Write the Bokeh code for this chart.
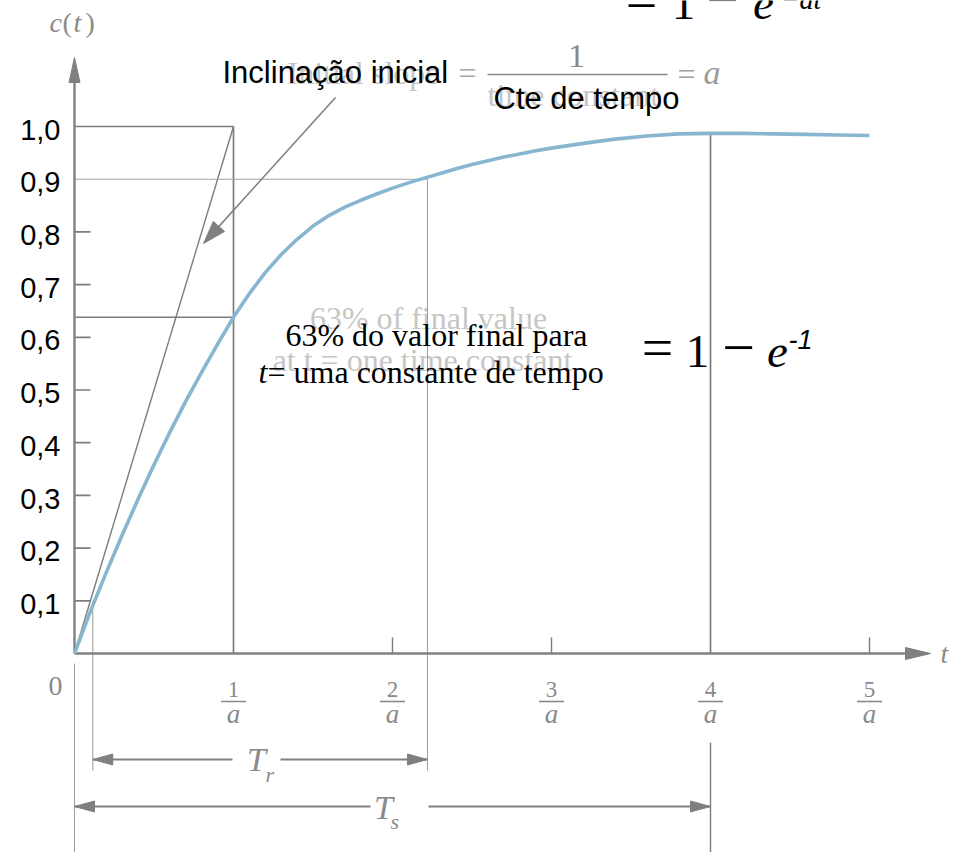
import math

from bokeh.plotting import figure
from bokeh.models import Range1d
from bokeh.core.properties import value
from bokeh.embed import file_html
from bokeh.resources import INLINE

# ---- data: first-order step response c(t) (time in units of 1/a) ----
t_vals = [0, 0.1, 0.2, 0.3, 0.4, 0.5, 0.6, 0.7, 0.8, 0.9, 1.0,
          1.1, 1.2, 1.3, 1.4, 1.5, 1.6, 1.7, 1.8, 1.9, 2.0,
          2.1, 2.2, 2.3, 2.4, 2.5, 2.6, 2.7, 2.8, 2.9, 3.0,
          3.2, 3.4, 3.6, 3.8, 4.0, 4.2, 4.4, 4.6, 4.8, 5.0]
c_vals = [0, 0.080, 0.154, 0.225, 0.293, 0.358, 0.420, 0.479, 0.534, 0.587, 0.638,
          0.683, 0.723, 0.757, 0.786, 0.811, 0.831, 0.847, 0.860, 0.872, 0.883,
          0.893, 0.902, 0.911, 0.920, 0.928, 0.935, 0.942, 0.948, 0.954, 0.959,
          0.968, 0.976, 0.982, 0.986, 0.987, 0.987, 0.986, 0.985, 0.984, 0.983]

y_ticks = [0.1, 0.2, 0.3, 0.4, 0.5, 0.6, 0.7, 0.8, 0.9, 1.0]
y_tick_labels = ["0,1", "0,2", "0,3", "0,4", "0,5", "0,6", "0,7", "0,8", "0,9", "1,0"]
y_minor = [0.1, 0.2, 0.3, 0.4, 0.5, 0.6, 0.7, 0.8]
x_ticks = [1, 2, 3, 4, 5]
x_tick_nums = ["1", "2", "3", "4", "5"]
x_small_ticks = [2, 3, 5]

t_const = 1.0        # one time constant
c_at_tc = 0.638      # 63 % level
c_low, c_high = 0.1, 0.9
t_rise_start, t_rise_end = 0.115, 2.22
t_settle, c_settle = 4.0, 0.987

# ---- canvas geometry ----
W, H = 963, 852
PX0, PY0 = 74, 653       # pixel of the origin
SX, SY = 159.0, 527.0    # pixels per unit
BASE_SHIFT = 0.34        # alphabetic-baseline correction, in em


def dx(px):
    return (px - PX0) / SX


def dy(py):
    return (PY0 - py) / SY


p = figure(width=W, height=H, x_range=Range1d(dx(0), dx(W)), y_range=Range1d(dy(H), dy(0)),
           x_axis_type=None, y_axis_type=None, output_backend="svg", toolbar_location=None,
           min_border=0, outline_line_color=None)
p.grid.visible = False
p.background_fill_color = "white"
p.border_fill_color = "white"

SERIF = "Liberation Serif"
SANS = "Liberation Sans"
DARK = "#7c7c7c"
LIGHT = "#a2a2a2"
GHOST = "#c6c6c6"
LBL = "#8a8a8a"


def label(x, y, s, size, color="black", font=SERIF, style="normal", align="left", y_offset=0):
    xs = x if isinstance(x, list) else [x]
    ys = y if isinstance(y, list) else [y]
    ss = s if isinstance(s, list) else [s]
    p.text(x=xs, y=ys, text=ss, text_font=value(font), text_font_size=f"{size}px",
           text_font_style=style, text_color=color, text_align=align,
           text_baseline="alphabetic", y_offset=y_offset - BASE_SHIFT * size)


def to_px(pt):
    return PX0 + pt[0] * SX, PY0 - pt[1] * SY


def head(tip, frm, length, width):
    tx, ty = to_px(tip)
    fx, fy = to_px(frm)
    vx, vy = tx - fx, ty - fy
    n = math.hypot(vx, vy)
    ux, uy = vx / n, vy / n
    bx, by = tx - length * ux, ty - length * uy
    nx, ny = -uy, ux
    pts = [(tx, ty), (bx + width / 2 * nx, by + width / 2 * ny), (bx - width / 2 * nx, by - width / 2 * ny)]
    return [dx(a) for a, _ in pts], [dy(b) for _, b in pts]


def back_off(tip, frm, dist):
    tx, ty = to_px(tip)
    fx, fy = to_px(frm)
    n = math.hypot(tx - fx, ty - fy)
    return dx(tx - dist * (tx - fx) / n), dy(ty - dist * (ty - fy) / n)


heads_x, heads_y = [], []


def add_head(tip, frm, length, width):
    hx, hy = head(tip, frm, length, width)
    heads_x.append(hx)
    heads_y.append(hy)


# ---- faint original-language layer ----
label(dx(287), dy(83), "Initial slope", 32, GHOST)
label(dx(487), dy(105), "time constant", 32, GHOST)
label(dx(428), dy(328), "63% of final value", 32, GHOST, align="center")
label(dx(422), dy(370), "at t = one time constant", 32, GHOST, align="center")

# ---- slope formula (gray) ----
label(dx(458), dy(83), "=", 32, "#a6a6a6")
label(dx(576), dy(67), "1", 34, LBL, align="center")
p.segment(x0=[dx(487)], y0=[dy(74)], x1=[dx(667)], y1=[dy(74)], line_color=LBL, line_width=1.6)
label(dx(677), dy(84), "=", 32, "#a0a0a0")
label(dx(703), dy(84), "a", 34, "#9a9a9a", style="italic")

# ---- construction lines ----
p.segment(x0=[0, t_const, 0, t_settle], y0=[1.0, 0, c_at_tc, 0],
          x1=[t_const, t_const, t_const, t_settle], y1=[1.0, 1.0, c_at_tc, c_settle],
          line_color=DARK, line_width=1.7)
p.segment(x0=[0], y0=[0], x1=[t_const], y1=[1.0], line_color=DARK, line_width=1.4)
p.segment(x0=[t_settle], y0=[dy(742)], x1=[t_settle], y1=[dy(H)], line_color=DARK, line_width=1.4)
p.segment(x0=[0, t_rise_end, t_rise_start, 0],
          y0=[c_high, c_high, c_low, dy(663)],
          x1=[t_rise_end, t_rise_end, t_rise_start, 0],
          y1=[c_high, dy(770), dy(770), dy(H)],
          line_color=LIGHT, line_width=1.1)

# tick marks
p.segment(x0=[0] * len(y_minor), y0=y_minor, x1=[dx(90)] * len(y_minor), y1=y_minor,
          line_color=DARK, line_width=1.7)
p.segment(x0=x_small_ticks, y0=[0] * len(x_small_ticks), x1=x_small_ticks,
          y1=[dy(637)] * len(x_small_ticks), line_color=DARK, line_width=1.4)

# axes with arrowheads
p.segment(x0=[0, 0], y0=[0, 0], x1=[0, dx(915)], y1=[dy(70), 0], line_color="#808080", line_width=2.4)
add_head((0, dy(57)), (0, 0), 25, 11)
add_head((dx(930), 0), (0, 0), 25, 12)

# annotation arrow pointing at the initial slope
a_from, a_tip = (dx(335), dy(97)), (dx(203), dy(243))
a_end = back_off(a_tip, a_from, 12)
p.segment(x0=[a_from[0]], y0=[a_from[1]], x1=[a_end[0]], y1=[a_end[1]],
          line_color="#808080", line_width=1.6)
add_head(a_tip, a_from, 23, 15)

# rise time and settling time dimension arrows
yr, ys = dy(759), dy(806)
p.segment(x0=[t_rise_start, dx(280), 0, dx(428)], y0=[yr, yr, ys, ys],
          x1=[dx(232), t_rise_end, dx(370), t_settle], y1=[yr, yr, ys, ys],
          line_color="#808080", line_width=2.2)
add_head((t_rise_start, yr), (t_rise_end, yr), 20, 11)
add_head((t_rise_end, yr), (t_rise_start, yr), 20, 11)
add_head((0, ys), (t_settle, ys), 20, 11)
add_head((t_settle, ys), (0, ys), 20, 11)

p.patches(xs=heads_x, ys=heads_y, fill_color="#808080", line_color="#808080", line_width=1)

# ---- step response curve ----
p.line(t_vals, c_vals, line_color="#88b6d0", line_width=3.6, line_join="round")

# ---- axis labels ----
label([dx(60)] * len(y_ticks), y_ticks, y_tick_labels, 29, "black", font=SANS,
      align="right", y_offset=13)
label(x_ticks, [0] * len(x_ticks), x_tick_nums, 23, LBL, align="center", y_offset=44)
p.segment(x0=[v - 12.5 / SX for v in x_ticks], y0=[dy(701)] * len(x_ticks),
          x1=[v + 12.5 / SX for v in x_ticks], y1=[dy(701)] * len(x_ticks),
          line_color=LBL, line_width=1.6)
label(x_ticks, [0] * len(x_ticks), ["a"] * len(x_ticks), 27, LBL, style="italic",
      align="center", y_offset=70)
label(dx(55), dy(695), "0", 28, LBL, align="center")
label(dx(940), dy(663), "t", 28, LBL, style="italic")
label(dx(49), dy(32), "c", 28, LBL, style="italic")
label(dx(62), dy(32), "(", 28, LBL)
label(dx(73), dy(32), "t", 28, LBL, style="italic")
label(dx(85), dy(32), ")", 28, LBL)

label(dx(256), dy(771), "T", 34, LBL, style="italic", align="center")
label(dx(265), dy(781), "r", 22, LBL, style="italic")
label(dx(383), dy(819), "T", 34, LBL, style="italic", align="center")
label(dx(390), dy(828), "s", 22, LBL, style="italic")

# ---- annotations (black) ----
label(dx(222), dy(83), "Inclinação inicial", 31, "black", font=SANS)
label(dx(493), dy(109), "Cte de tempo", 31, "black", font=SANS)
label(dx(436), dy(345), "63% do valor final para", 32, "black", align="center")
label(dx(258), dy(382), "t", 32, "black", style="italic")
label(dx(267), dy(382), "= uma constante de tempo", 32, "black")

# 1 - e^-1 at one time constant
label(dx(657), dy(367), "=", 56, "black", align="center")
label(dx(697), dy(367), "1", 47, "black", align="center")
label(dx(738), dy(367), "\u2212", 58, "black", align="center")
label(dx(777), dy(367), "e", 47, "black", style="italic", align="center")
label(dx(788), dy(348), "-1", 27, "black", font=SANS, style="italic")

# response formula, partly above the top edge
label(dx(641), dy(19), "=", 56, "black", align="center")
label(dx(683), dy(19), "1", 47, "black", align="center")
label(dx(722), dy(19), "\u2212", 58, "black", align="center")
label(dx(763), dy(19), "e", 47, "black", style="italic", align="center")
label(dx(780), dy(9), "\u2212at", 28, "black", style="italic")

open("out.html", "w").write(file_html(p, INLINE))
